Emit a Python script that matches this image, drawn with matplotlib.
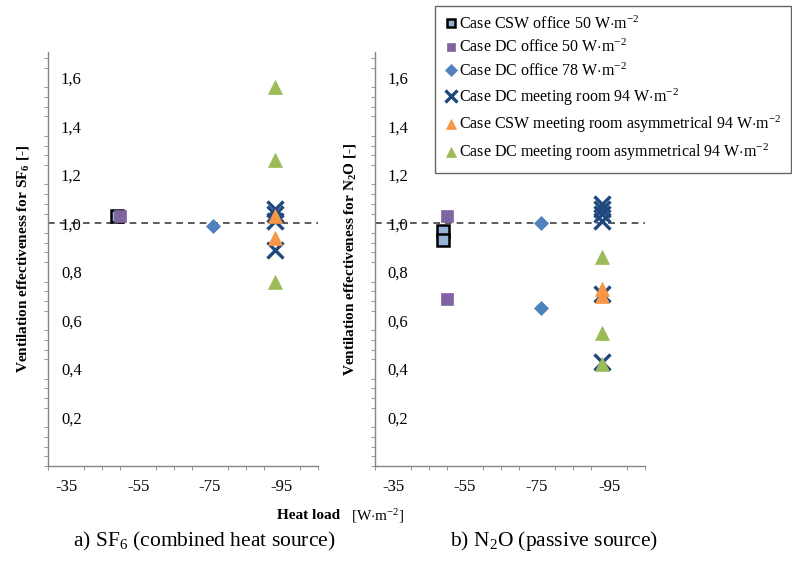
import numpy as np
import matplotlib
matplotlib.use("Agg")
import matplotlib.pyplot as plt
from matplotlib.ticker import MultipleLocator, FuncFormatter

plt.rcParams['font.family'] = 'Liberation Serif'
plt.rcParams['mathtext.fontset'] = 'custom'
plt.rcParams['mathtext.rm'] = 'Liberation Serif'
plt.rcParams['mathtext.it'] = 'Liberation Serif:italic'
plt.rcParams['mathtext.bf'] = 'Liberation Serif:bold'

# Series labels
labels = [r"Case CSW office 50 W$\cdot$m$^{-2}$",
          r"Case DC office 50 W$\cdot$m$^{-2}$",
          r"Case DC office 78 W$\cdot$m$^{-2}$",
          r"Case DC meeting room 94 W$\cdot$m$^{-2}$",
          r"Case CSW meeting room asymmetrical 94 W$\cdot$m$^{-2}$",
          r"Case DC meeting room asymmetrical 94 W$\cdot$m$^{-2}$"]

# Heat load (negative, as on the axis) per series
heat_load = [-49, -50, -76, -93, -93, -93]

# Ventilation effectiveness, SF6 (panel a)
sf6_csw_office50 = [1.03]
sf6_dc_office50 = [1.03]
sf6_dc_office78 = [0.99]
sf6_dc_meeting94 = [1.06, 1.04, 1.01, 0.89]
sf6_csw_meeting_asym94 = [1.03, 0.94]
sf6_dc_meeting_asym94 = [1.56, 1.26, 0.76]

# Ventilation effectiveness, N2O (panel b)
n2o_csw_office50 = [0.97, 0.93]
n2o_dc_office50 = [1.03, 0.69]
n2o_dc_office78 = [1.00, 0.65]
n2o_dc_meeting94 = [1.08, 1.06, 1.04, 1.01, 0.71, 0.43]
n2o_csw_meeting_asym94 = [0.73, 0.70]
n2o_dc_meeting_asym94 = [0.86, 0.55, 0.42]

xticks = [-35, -55, -75, -95]
yticks = [0.2, 0.4, 0.6, 0.8, 1.0, 1.2, 1.4, 1.6]

# Marker styles per series
styles = [dict(marker='s', ms=8, mfc='#95B3D7', mec='black', mew=1.8),
          dict(marker='s', ms=8, mfc='#8064A2', mec='#8064A2', mew=0.5),
          dict(marker='D', ms=7.5, mfc='#4F81BD', mec='#4F81BD', mew=0.5),
          dict(marker='x', ms=11.5, mfc='#1F497D', mec='#1F497D', mew=2.4),
          dict(marker='^', ms=9.5, mfc='#F79646', mec='#F79646', mew=0.5),
          dict(marker='^', ms=9.5, mfc='#9BBB59', mec='#9BBB59', mew=0.5)]

fig = plt.figure(figsize=(7.92, 5.79), dpi=100)
ax1 = fig.add_axes([0.061, 0.195, 0.340, 0.715])
ax2 = fig.add_axes([0.4735, 0.195, 0.341, 0.715])

panels = [(ax1, [sf6_csw_office50, sf6_dc_office50, sf6_dc_office78, sf6_dc_meeting94,
                 sf6_csw_meeting_asym94, sf6_dc_meeting_asym94]),
          (ax2, [n2o_csw_office50, n2o_dc_office50, n2o_dc_office78, n2o_dc_meeting94,
                 n2o_csw_meeting_asym94, n2o_dc_meeting_asym94])]

handles = []
for ax, series in panels:
    ax.axhline(1.0, color='#404040', linestyle=(0, (4, 3)), linewidth=1.2, zorder=1)
    hs = []
    for xv, ys, st, lab in zip(heat_load, series, styles, labels):
        h, = ax.plot([xv] * len(ys), ys, linestyle='none', label=lab, zorder=3, **st)
        hs.append(h)
    handles = hs

    ax.set_xlim(-30, -105)
    ax.set_ylim(0, 1.705)
    ax.set_xticks(xticks)
    ax.xaxis.set_minor_locator(MultipleLocator(5))
    ax.set_yticks(yticks)
    ax.yaxis.set_minor_locator(MultipleLocator(0.04))
    ax.yaxis.set_major_formatter(FuncFormatter(lambda v, p: ("%.1f" % v).replace('.', ',')))
    ax.xaxis.set_major_formatter(FuncFormatter(lambda v, p: "%d" % v))

    for s in ['top', 'right']:
        ax.spines[s].set_visible(False)
    for s in ['left', 'bottom']:
        ax.spines[s].set_color('#868686')
        ax.spines[s].set_linewidth(1.0)

    ax.tick_params(axis='both', which='both', color='#868686', direction='out', labelsize=12)
    ax.tick_params(axis='x', which='major', length=0, pad=9)
    ax.tick_params(axis='x', which='minor', length=3)
    ax.tick_params(axis='y', which='major', length=0, pad=-24)
    ax.tick_params(axis='y', which='minor', length=3)
    ax.set_facecolor('none')

ax1.set_ylabel(r"Ventilation effectiveness for SF$_\mathbf{6}$ [-]", fontsize=11,
               fontweight='bold', labelpad=6)
ax2.set_ylabel(r"Ventilation effectiveness for N$_\mathbf{2}$O [-]", fontsize=11,
               fontweight='bold', labelpad=6)

# Shared x label
fig.text(0.430, 0.109, "Heat load", fontsize=11, fontweight='bold', ha='right', va='center')
fig.text(0.443, 0.109, r"[W$\cdot$m$^{-2}$]", fontsize=11, ha='left', va='center')

# Panel captions
fig.text(0.258, 0.065, r"a) SF$_6$ (combined heat source)", fontsize=15.5, ha='center', va='center')
fig.text(0.700, 0.065, r"b) N$_2$O (passive source)", fontsize=15.5, ha='center', va='center')

leg = fig.legend(handles=handles, loc='upper left', bbox_to_anchor=(0.549, 0.99),
                 fontsize=11.5, frameon=True, fancybox=False, edgecolor='#404040',
                 handletextpad=0.1, handlelength=0.8, borderpad=0.6, labelspacing=0.4,
                 markerscale=0.8, borderaxespad=0)
leg.get_frame().set_linewidth(1.0)

fig.savefig("out.png", dpi=100)
